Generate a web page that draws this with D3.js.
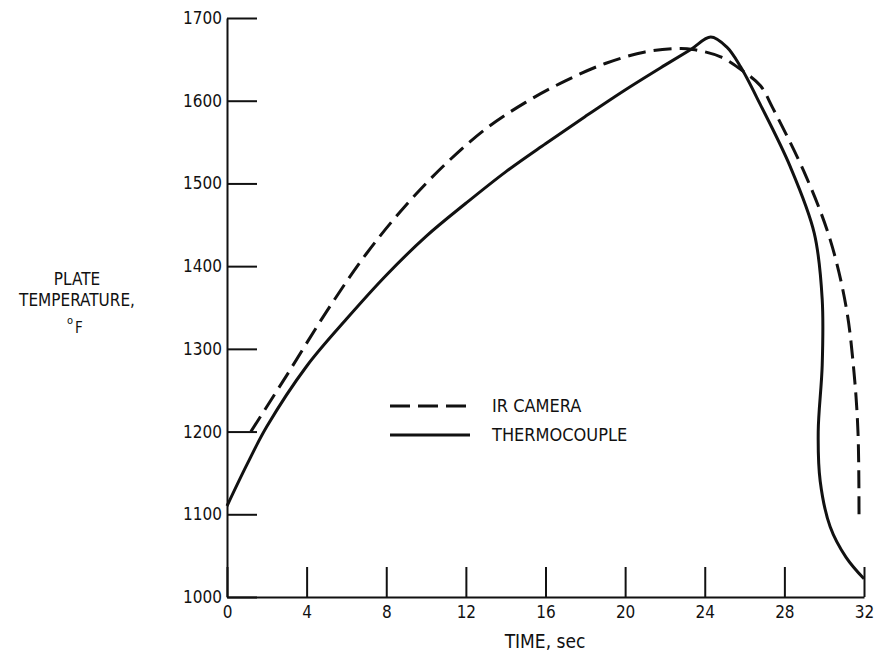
<!DOCTYPE html>
<html>
<head>
<meta charset="utf-8">
<script src="https://cdn.jsdelivr.net/npm/d3@7"></script>
<style>
  html, body { margin: 0; padding: 0; background: #fff; }
  svg { display: block; }
  .axis text { font-family: "DejaVu Sans Condensed", "DejaVu Sans", sans-serif; font-stretch: condensed; font-size: 17px; fill: #111; }
  .axis path, .axis line { stroke: #111; stroke-width: 2; }
  .label { font-family: "DejaVu Sans Condensed", "DejaVu Sans", sans-serif; font-stretch: condensed; fill: #111; }
</style>
</head>
<body>
<div id="chart"></div>
<script>
// Plate temperature vs time
const xTicks = [0, 4, 8, 12, 16, 20, 24, 28, 32];
const yTicks = [1000, 1100, 1200, 1300, 1400, 1500, 1600, 1700];

// [time sec, temperature F]
const thermocouple = [
  [0, 1110], [1, 1160], [2, 1206], [4, 1279], [6, 1336], [8, 1389], [10, 1436],
  [12, 1476], [14, 1514], [16, 1548], [18, 1581], [20, 1613], [22, 1643],
  [23.3, 1662], [24.3, 1677], [25.1, 1665], [25.8, 1641], [26.8, 1595],
  [28.3, 1520], [29.5, 1440], [29.9, 1360], [29.9, 1280], [29.7, 1200],
  [29.8, 1140], [30.3, 1085], [31.1, 1048], [32, 1022]
];

const irCamera = [
  [1.2, 1200], [3, 1268], [5, 1345], [7, 1415], [9, 1474], [11, 1524],
  [13, 1566], [15, 1598], [17, 1624], [19, 1645], [21, 1659], [22.6, 1663],
  [23.4, 1662], [24.8, 1653], [25.8, 1638], [26.8, 1618], [27.4, 1592],
  [29.1, 1508], [30.3, 1432], [31.1, 1351], [31.5, 1271], [31.7, 1198],
  [31.75, 1095]
];

const legendItems = [
  { name: 'IR CAMERA', dash: '20,8' },
  { name: 'THERMOCOUPLE', dash: null }
];

const W = 880, H = 659;
const margin = { top: 18, right: 16, bottom: 62, left: 227 };
const width = 864 - margin.left;
const height = 597 - margin.top;

const svg = d3.select('#chart')
  .append('svg')
  .attr('width', W)
  .attr('height', H);

const g = svg.append('g')
  .attr('transform', `translate(${margin.left},${margin.top})`);

const x = d3.scaleLinear().domain([0, 32]).range([0, width]);
const y = d3.scaleLinear().domain([1000, 1700]).range([height, 0]);

g.append('g')
  .attr('class', 'axis')
  .attr('transform', `translate(0,${height})`)
  .call(d3.axisBottom(x).tickValues(xTicks).tickFormat(d3.format('d'))
    .tickSizeInner(-30).tickSizeOuter(0).tickPadding(6))
  .call(a => a.selectAll('text').attr('dy', '0.9em'));

g.append('g')
  .attr('class', 'axis')
  .call(d3.axisLeft(y).tickValues(yTicks).tickFormat(d3.format('d'))
    .tickSizeInner(-30).tickSizeOuter(0).tickPadding(5));

const line = d3.line()
  .x(d => x(d[0]))
  .y(d => y(d[1]))
  .curve(d3.curveCatmullRom.alpha(0.5));

g.append('path')
  .datum(thermocouple)
  .attr('fill', 'none')
  .attr('stroke', '#111')
  .attr('stroke-width', 3)
  .attr('d', line);

g.append('path')
  .datum(irCamera)
  .attr('fill', 'none')
  .attr('stroke', '#111')
  .attr('stroke-width', 3)
  .attr('stroke-dasharray', '18,8')
  .attr('d', line);

// legend
const legend = svg.append('g').attr('transform', 'translate(390,406)');
legendItems.forEach((d, i) => {
  const row = legend.append('g').attr('transform', `translate(0,${i * 29})`);
  row.append('line')
    .attr('x1', 0).attr('x2', 80)
    .attr('stroke', '#111')
    .attr('stroke-width', 3)
    .attr('stroke-dasharray', d.dash);
  row.append('text')
    .attr('class', 'label')
    .attr('x', 102)
    .attr('dy', '0.35em')
    .attr('font-size', 18)
    .text(d.name);
});

// axis titles
svg.append('text')
  .attr('class', 'label')
  .attr('x', 545).attr('y', 648)
  .attr('text-anchor', 'middle')
  .attr('font-size', 19)
  .text('TIME, sec');

const yTitle = svg.append('text')
  .attr('class', 'label')
  .attr('text-anchor', 'middle')
  .attr('font-size', 17);
yTitle.append('tspan').attr('x', 77).attr('y', 285).text('PLATE');
yTitle.append('tspan').attr('x', 77).attr('y', 306).text('TEMPERATURE,');

const unit = svg.append('text').attr('class', 'label');
unit.append('tspan').attr('x', 67).attr('y', 324).attr('font-size', 11).text('o');
unit.append('tspan').attr('x', 75).attr('y', 333).attr('font-size', 15).text('F');
</script>
</body>
</html>
